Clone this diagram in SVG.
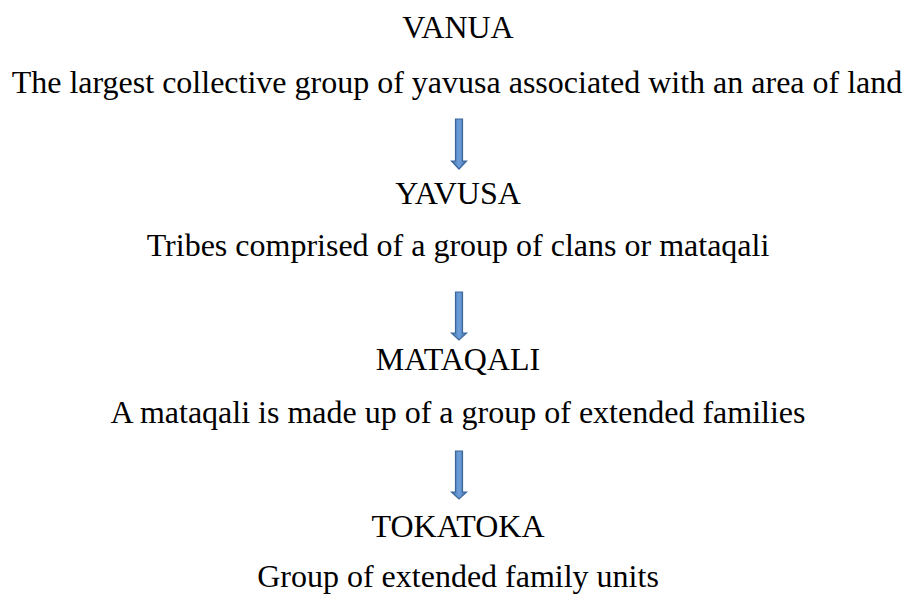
<svg xmlns="http://www.w3.org/2000/svg" width="907" height="597" viewBox="0 0 907 597">
  <style>
    .title { font-family: "Liberation Serif", "Times New Roman", serif; font-size: 32px; fill: #000; text-anchor: middle; }
    .desc { font-family: "Liberation Serif", "Times New Roman", serif; font-size: 32px; fill: #000; text-anchor: middle; }
    .arrow { fill: url(#arrowFill); stroke: #3b679b; stroke-width: 1.2; stroke-linejoin: miter; }
  </style>
  <defs>
    <linearGradient id="arrowFill" x1="0" y1="0" x2="1" y2="0">
      <stop offset="0" stop-color="#3f6fa8"/>
      <stop offset="0.5" stop-color="#6fa0db"/>
      <stop offset="1" stop-color="#3f6fa8"/>
    </linearGradient>
  </defs>
  <rect width="907" height="597" fill="#fff"/>

  <g id="vanua">
    <text class="title" x="458" y="38">VANUA</text>
    <text class="desc" x="457" y="93">The largest collective group of yavusa associated with an area of land</text>
  </g>
  <g id="yavusa">
    <text class="title" x="458" y="204">YAVUSA</text>
    <text class="desc" x="458" y="256">Tribes comprised of a group of clans or mataqali</text>
  </g>
  <g id="mataqali">
    <text class="title" x="458" y="370">MATAQALI</text>
    <text class="desc" x="458" y="423">A mataqali is made up of a group of extended families</text>
  </g>
  <g id="tokatoka">
    <text class="title" x="458" y="537">TOKATOKA</text>
    <text class="desc" x="458" y="587">Group of extended family units</text>
  </g>

  <g id="connectors">
    <path class="arrow" d="M455.5 119 H462.5 V161 H466.5 L459 169 L451.5 161 H455.5 Z"/>
    <path class="arrow" d="M455.5 292 H462.5 V333 H466.5 L459 340 L451.5 333 H455.5 Z"/>
    <path class="arrow" d="M455.5 451 H462.5 V492 H466.5 L459 499 L451.5 492 H455.5 Z"/>
  </g>
</svg>
